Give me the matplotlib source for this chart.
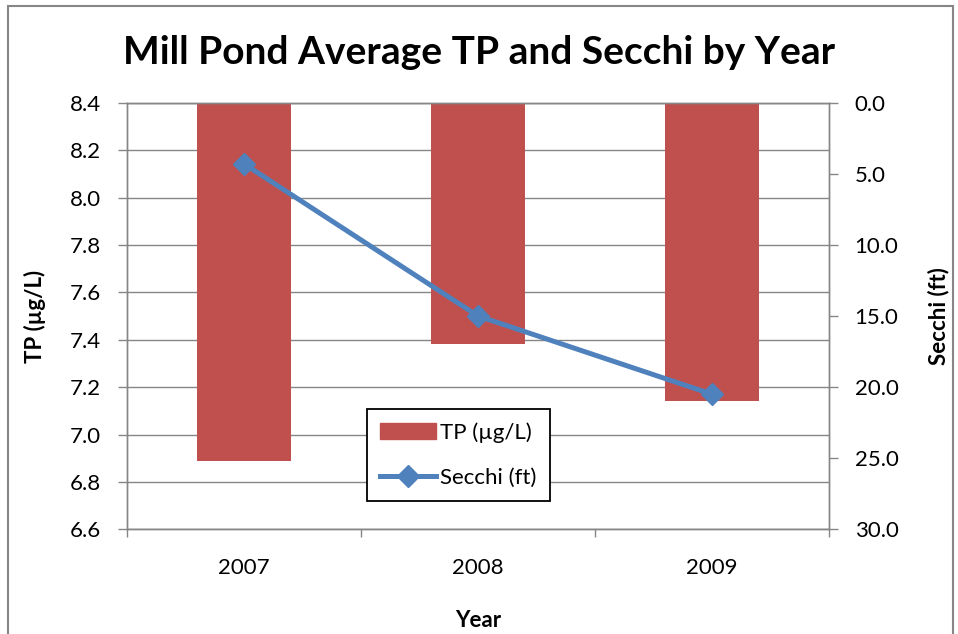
import matplotlib.pyplot as plt
import matplotlib.patches as mpatches
import numpy as np

plt.rcParams['font.family'] = ['Lato', 'DejaVu Sans']

# categories and series
years = ['2007', '2008', '2009']
tp = [6.89, 7.38, 7.14]        # TP (µg/L), bars hang from top of axis
secchi = [4.3, 15.0, 20.5]     # Secchi (ft), right axis inverted

left_ticks = np.arange(6.6, 8.41, 0.2)
right_ticks = np.arange(0, 30.1, 5)

bar_color = '#C0504D'
line_color = '#4F81BD'
axis_gray = '#868686'

fig = plt.figure(figsize=(9.58, 6.34), dpi=100)
ax = fig.add_axes([127 / 958, 1 - 529.3 / 634, 702 / 958, 426.6 / 634])

x = np.arange(len(years))
top = 8.4
ax.bar(x, np.array(tp) - top, bottom=top, width=0.4, color=bar_color, zorder=2)
ax.set_xlim(-0.5, 2.5)
ax.set_ylim(6.6, 8.4)
ax.set_yticks(left_ticks)
ax.set_yticklabels([f'{v:.1f}' for v in left_ticks])
ax.grid(axis='y', color=axis_gray, linewidth=1.0)
ax.set_axisbelow(True)

ax.set_xticks(x)
ax.set_xticklabels(years)
ax.set_xticks([-0.5, 0.5, 1.5, 2.5], minor=True)
ax.tick_params(axis='x', which='major', length=0, pad=21, labelsize=16)
ax.tick_params(axis='x', which='minor', length=6, width=1, color=axis_gray, direction='out')
ax.tick_params(axis='y', length=6.5, width=1, color=axis_gray, direction='out', pad=12, labelsize=16)

for s in ax.spines.values():
    s.set_color(axis_gray)
    s.set_linewidth(1.0)

ax2 = ax.twinx()
ax2.plot(x, secchi, color=line_color, linewidth=3.6, marker='D', markersize=11,
         label='Secchi (ft)', zorder=3)
ax2.set_ylim(30, 0)
ax2.set_yticks(right_ticks)
ax2.set_yticklabels([f'{v:.1f}' for v in right_ticks])
ax2.tick_params(axis='y', length=6.5, width=1, color=axis_gray, direction='out', pad=12, labelsize=16)
for s in ax2.spines.values():
    s.set_color(axis_gray)
    s.set_linewidth(1.0)

ax.set_ylabel('TP (µg/L)', fontsize=16, fontweight='bold', labelpad=17)
ax2.set_ylabel('Secchi (ft)', fontsize=16, fontweight='bold', labelpad=21)
ax.set_xlabel('Year', fontsize=16, fontweight='bold', labelpad=23)

fig.text(0.5, 1 - 52 / 634, 'Mill Pond Average TP and Secchi by Year',
         ha='center', va='center', fontsize=28, fontweight='bold')

handles = [mpatches.Patch(color=bar_color, label='TP (µg/L)'),
           ax2.get_lines()[0]]
leg = ax2.legend(handles=handles, loc='upper left',
                 bbox_to_anchor=(367 / 958, 1 - 409 / 634),
                 bbox_transform=fig.transFigure, fontsize=16,
                 frameon=True, fancybox=False, framealpha=1,
                 edgecolor='black', labelspacing=1.1, handlelength=2.5,
                 handletextpad=0.2, borderpad=0.6, borderaxespad=0)
leg.get_frame().set_linewidth(1.3)

# outer chart border
fig.patches.append(mpatches.Rectangle((8 / 958, -0.05), 945 / 958, 1.05 - 6 / 634,
                                      transform=fig.transFigure, fill=False,
                                      edgecolor=axis_gray, linewidth=1.5))

fig.savefig('out.png', dpi=100)
